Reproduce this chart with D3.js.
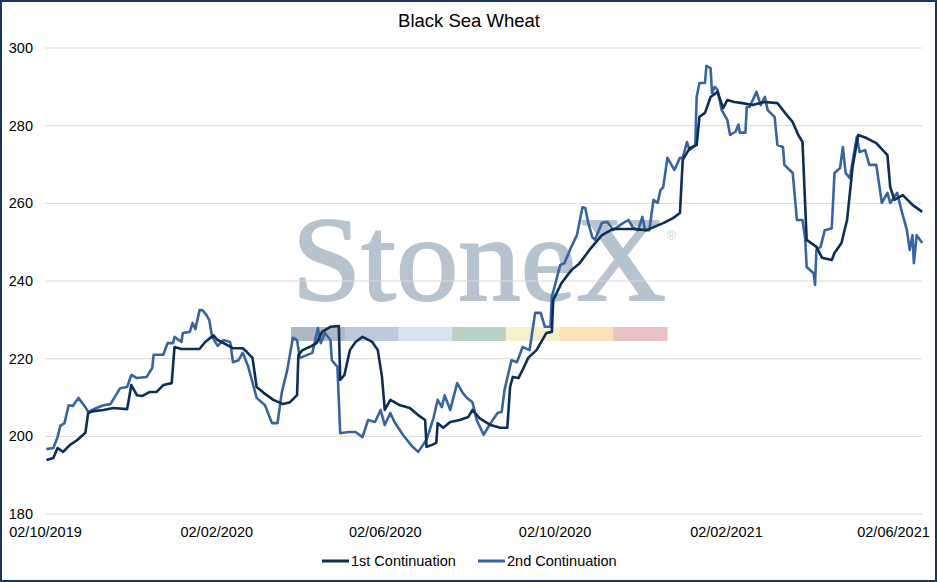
<!DOCTYPE html>
<html>
<head>
<meta charset="utf-8">
<script src="https://cdn.jsdelivr.net/npm/d3@7"></script>
<style>
  body { margin: 0; background: #fff; }
  svg text { font-family: "Liberation Sans", Arial, sans-serif; fill: #000; }
</style>
</head>
<body>
<div id="chart"></div>
<script>
var chartTitle = "Black Sea Wheat";
var seriesNames = ["1st Continuation", "2nd Continuation"];
var seriesColors = ["#0d2e55", "#3864a0"];
var yTicks = [180, 200, 220, 240, 260, 280, 300];
var xTicks = ["2019-10-02", "2020-02-02", "2020-06-02", "2020-10-02", "2021-02-02", "2021-06-02"];

var firstDates = ["2019-10-03","2019-10-08","2019-10-11","2019-10-15","2019-10-20","2019-10-25","2019-10-31","2019-11-02","2019-11-06","2019-11-13","2019-11-20","2019-11-30","2019-12-03","2019-12-07","2019-12-11","2019-12-16","2019-12-21","2019-12-26","2020-01-01","2020-01-03","2020-01-08","2020-01-21","2020-01-25","2020-01-31","2020-02-03","2020-02-10","2020-02-14","2020-02-21","2020-02-24","2020-02-28","2020-03-02","2020-03-07","2020-03-14","2020-03-21","2020-03-26","2020-03-31","2020-04-01","2020-04-04","2020-04-09","2020-04-14","2020-04-18","2020-04-24","2020-04-30","2020-05-01","2020-05-04","2020-05-08","2020-05-12","2020-05-17","2020-05-24","2020-05-28","2020-05-31","2020-06-02","2020-06-06","2020-06-13","2020-06-20","2020-06-27","2020-07-01","2020-07-02","2020-07-06","2020-07-09","2020-07-10","2020-07-14","2020-07-19","2020-07-26","2020-08-01","2020-08-04","2020-08-09","2020-08-17","2020-08-24","2020-08-29","2020-08-31","2020-09-02","2020-09-06","2020-09-09","2020-09-13","2020-09-19","2020-09-26","2020-09-30","2020-10-01","2020-10-07","2020-10-14","2020-10-20","2020-10-27","2020-11-05","2020-11-13","2020-11-27","2020-12-07","2020-12-19","2020-12-26","2020-12-31","2021-01-02","2021-01-07","2021-01-12","2021-01-14","2021-01-18","2021-01-22","2021-01-27","2021-01-31","2021-02-03","2021-02-08","2021-02-14","2021-02-21","2021-03-02","2021-03-11","2021-03-16","2021-03-22","2021-03-26","2021-03-29","2021-04-01","2021-04-08","2021-04-12","2021-04-19","2021-04-21","2021-04-26","2021-04-30","2021-05-04","2021-05-08","2021-05-14","2021-05-21","2021-05-29","2021-05-31","2021-06-03","2021-06-09","2021-06-16","2021-06-23"];
var firstValues = [193.9,194.4,197,196,197.8,199,200.9,206,206.5,206.8,207.3,207,213.2,210.6,210.4,211.4,211.4,213.2,213.7,223,222.5,222.5,224.3,226,224.8,223.5,222.7,222.7,221.7,220.2,212.7,211.2,209.4,208.3,208.8,210.6,221,222.2,223,224,226.9,228.2,228.4,214.5,215.8,222.2,224.3,225.6,224.3,222.2,215.3,206.8,209.4,208,207.3,205.2,204.2,197.3,197.8,198.3,203.4,202.2,203.7,204.2,205,206.8,204.7,202.9,202.2,202.2,212.7,215.3,215,217.1,220.2,222.2,226.6,226.9,235.1,239.5,242.8,244.6,248,251.8,253.4,253.4,253.1,254.9,256.2,257.5,271.2,274.2,275,282.3,283.3,287.4,288.7,284.5,286.6,286.1,285.8,285.3,286.1,285.8,283.5,280.9,277.6,275.8,250.6,248.8,246,245.4,247.2,249.8,255.7,269.4,277.6,276.8,275.5,272.4,264.2,260.9,262.1,259.6,257.8];

var secondDates = ["2019-10-03","2019-10-08","2019-10-11","2019-10-13","2019-10-16","2019-10-19","2019-10-22","2019-10-26","2019-10-31","2019-11-02","2019-11-08","2019-11-13","2019-11-18","2019-11-25","2019-11-30","2019-12-03","2019-12-07","2019-12-14","2019-12-18","2019-12-19","2019-12-26","2019-12-29","2020-01-02","2020-01-03","2020-01-08","2020-01-09","2020-01-14","2020-01-16","2020-01-18","2020-01-21","2020-01-23","2020-01-26","2020-01-28","2020-01-30","2020-02-03","2020-02-07","2020-02-12","2020-02-14","2020-02-18","2020-02-21","2020-02-25","2020-03-02","2020-03-08","2020-03-13","2020-03-17","2020-03-20","2020-03-24","2020-03-28","2020-03-31","2020-04-02","2020-04-11","2020-04-15","2020-04-17","2020-04-20","2020-04-24","2020-04-25","2020-04-29","2020-05-01","2020-05-07","2020-05-12","2020-05-17","2020-05-21","2020-05-26","2020-05-30","2020-06-02","2020-06-06","2020-06-09","2020-06-15","2020-06-22","2020-06-26","2020-07-02","2020-07-07","2020-07-10","2020-07-13","2020-07-15","2020-07-19","2020-07-24","2020-07-28","2020-07-31","2020-08-04","2020-08-07","2020-08-12","2020-08-17","2020-08-22","2020-08-25","2020-08-27","2020-09-01","2020-09-05","2020-09-09","2020-09-14","2020-09-18","2020-09-22","2020-09-25","2020-09-29","2020-09-30","2020-10-06","2020-10-09","2020-10-14","2020-10-18","2020-10-22","2020-10-24","2020-10-26","2020-10-29","2020-10-31","2020-11-05","2020-11-09","2020-11-13","2020-11-20","2020-11-24","2020-11-27","2020-12-01","2020-12-04","2020-12-06","2020-12-09","2020-12-12","2020-12-15","2020-12-17","2020-12-19","2020-12-22","2020-12-27","2020-12-31","2021-01-02","2021-01-05","2021-01-07","2021-01-11","2021-01-12","2021-01-14","2021-01-18","2021-01-19","2021-01-22","2021-01-23","2021-01-25","2021-01-27","2021-01-30","2021-02-03","2021-02-05","2021-02-09","2021-02-11","2021-02-12","2021-02-16","2021-02-17","2021-02-19","2021-02-24","2021-02-27","2021-03-02","2021-03-04","2021-03-09","2021-03-11","2021-03-15","2021-03-16","2021-03-22","2021-03-25","2021-03-29","2021-03-31","2021-04-01","2021-04-06","2021-04-07","2021-04-08","2021-04-11","2021-04-14","2021-04-19","2021-04-21","2021-04-25","2021-04-27","2021-04-29","2021-05-02","2021-05-07","2021-05-09","2021-05-13","2021-05-16","2021-05-21","2021-05-25","2021-05-29","2021-05-31","2021-06-05","2021-06-08","2021-06-12","2021-06-14","2021-06-16","2021-06-17","2021-06-19","2021-06-23"];
var secondValues = [196.7,197,199.8,202.7,203.4,208,207.8,209.9,207.5,206.3,207.3,208,208.3,212.4,212.7,215.8,215,215.3,217.6,221,221,224,224,225.6,224.3,226.6,226.9,229.2,227.6,232.5,232.5,231.2,229.9,225.6,223.3,224.8,224.3,219.1,219.6,221.5,217.9,209.9,208,203.4,203.4,211.2,217.1,225.4,224.8,220.2,221.5,227.9,224,226.6,224.8,219.6,217.9,200.8,201.1,201.1,199.8,204.2,203.7,206.8,202.9,206,203.7,200.4,197.3,196,199.1,204.7,209.4,207.5,210.6,206.8,213.7,211.2,209.9,208.8,204.2,200.4,203.4,206,206.3,211.9,219.6,219.1,223,222.2,231.8,231.8,228.2,228.2,235.9,244.1,244.6,248.8,251.8,259,258.8,255.2,251.3,250.6,255,255.2,253.1,254.9,255.7,253.9,253.1,256.5,253.1,253.1,260.9,260.1,263.4,264.2,271.7,268.6,271.7,271.7,275.8,273.7,275,287.4,291,291,295.4,294.8,288.4,290,289.2,284,281.5,277.6,278.5,280.3,278.2,278.2,284.8,284.8,288.7,285.3,287.4,284,282.2,275,274.5,269.9,267.8,255.7,255.7,250.6,243.6,242,239,248,248.8,253.1,253.6,267.8,269.1,274.5,267.8,266.5,277.1,273.2,273.7,269.9,269.9,260.1,262.7,260.1,262.7,258.3,253.1,248,251.8,244.6,251.8,249.8];

var logoText = "StoneX";
var logoBarColors = ["#aeb9c5", "#bccadb", "#d6e4f1", "#b9d1c5", "#f5f0cb", "#f9e1b8", "#e9c2c4"];

var width = 937, height = 582;
var parse = d3.timeParse("%Y-%m-%d");
var fmt = d3.timeFormat("%d/%m/%Y");

var svg = d3.select("#chart").append("svg")
    .attr("width", width)
    .attr("height", height);

svg.append("rect")
    .attr("x", 1).attr("y", 1)
    .attr("width", width - 2).attr("height", height - 2)
    .attr("fill", "#fff")
    .attr("stroke", "#17375e")
    .attr("stroke-width", 2);

var xScale = d3.scaleTime()
    .domain([parse(xTicks[0]), parse(xTicks[xTicks.length - 1])])
    .range([45, 893]);
var yScale = d3.scaleLinear().domain([180, 300]).range([514, 48]);
var plotRight = 922;

// watermark
var wm = svg.append("g").attr("class", "watermark");
wm.append("text")
    .attr("x", 292).attr("y", 300)
    .attr("textLength", 374)
    .attr("lengthAdjust", "spacingAndGlyphs")
    .style("font-family", "'Liberation Serif', 'Times New Roman', serif")
    .style("font-size", "121px")
    .style("fill", "#b7c3ce")
    .style("stroke", "#b7c3ce")
    .style("stroke-width", 2)
    .style("stroke-linejoin", "round")
    .text(logoText);
wm.append("text")
    .attr("x", 667).attr("y", 240)
    .style("font-size", "12px")
    .style("fill", "#c8d0d8")
    .text("®");
var barX = d3.scaleBand().domain(d3.range(logoBarColors.length)).range([291, 667]);
wm.selectAll("rect").data(logoBarColors).enter().append("rect")
    .attr("x", function(d, i) { return barX(i); })
    .attr("y", 327)
    .attr("width", barX.bandwidth() + 0.5)
    .attr("height", 14)
    .attr("fill", function(d) { return d; });

// grid
svg.append("g")
    .selectAll("line").data(yTicks).enter().append("line")
    .attr("x1", 45).attr("x2", plotRight)
    .attr("y1", function(d) { return yScale(d); })
    .attr("y2", function(d) { return yScale(d); })
    .attr("stroke", "#d9d9d9")
    .attr("stroke-width", 1);

var yAxis = d3.axisLeft(yScale).tickValues(yTicks).tickSize(0).tickPadding(12);
var gy = svg.append("g").attr("transform", "translate(45,0)").call(yAxis);
gy.select(".domain").remove();
gy.selectAll("text").style("font-size", "14.5px").style("fill", "#000");

var xAxis = d3.axisBottom(xScale).tickValues(xTicks.map(parse)).tickFormat(fmt).tickSize(0).tickPadding(13);
var gx = svg.append("g").attr("transform", "translate(0,514)").call(xAxis);
gx.select(".domain").remove();
gx.selectAll("text").style("font-size", "14.5px").style("fill", "#000");

// lines
var line = d3.line()
    .x(function(d) { return xScale(d[0]); })
    .y(function(d) { return yScale(d[1]); });

var series = [
  d3.zip(secondDates.map(parse), secondValues),
  d3.zip(firstDates.map(parse), firstValues)
];
var seriesColorOrder = [seriesColors[1], seriesColors[0]];

svg.selectAll(".series").data(series).enter().append("path")
    .attr("class", "series")
    .attr("d", line)
    .attr("fill", "none")
    .attr("stroke", function(d, i) { return seriesColorOrder[i]; })
    .attr("stroke-width", 2.6)
    .attr("stroke-linejoin", "round");

// title
svg.append("text")
    .attr("x", 469).attr("y", 27)
    .attr("text-anchor", "middle")
    .style("font-size", "18.5px")
    .text(chartTitle);

// legend
var legendX = [322, 478];
var lg = svg.selectAll(".legend").data(seriesNames).enter().append("g")
    .attr("class", "legend")
    .attr("transform", function(d, i) { return "translate(" + legendX[i] + ",561)"; });
lg.append("line")
    .attr("x1", 0).attr("x2", 27)
    .attr("stroke", function(d, i) { return seriesColors[i]; })
    .attr("stroke-width", 3);
lg.append("text")
    .attr("x", 29).attr("dy", "0.35em")
    .style("font-size", "14.5px")
    .text(function(d) { return d; });
</script>
</body>
</html>
